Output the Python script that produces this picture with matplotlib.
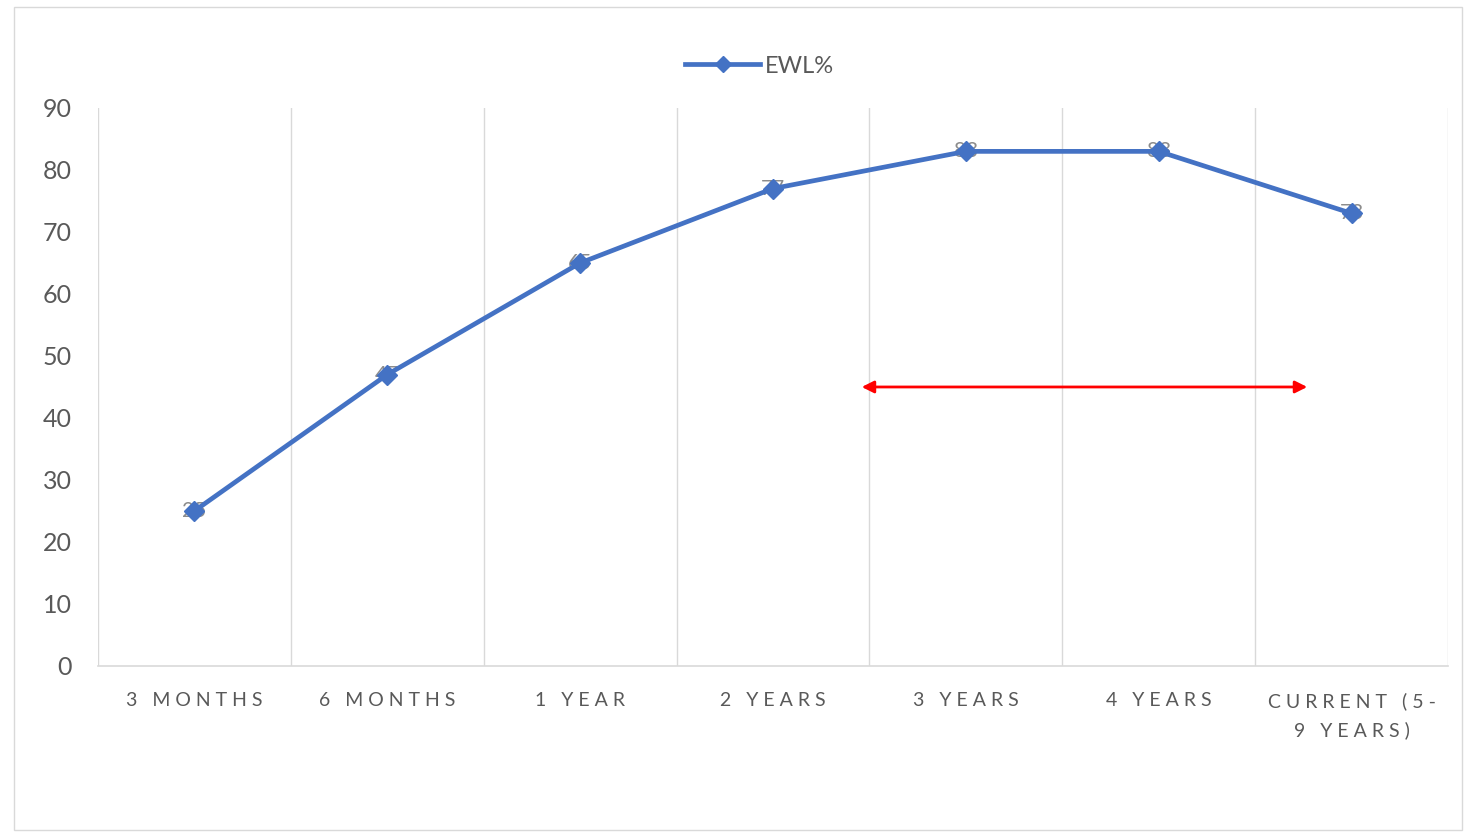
import matplotlib.pyplot as plt
from matplotlib.patches import Rectangle

plt.rcParams['font.family'] = ['Lato', 'DejaVu Sans']

categories = ["3 MONTHS", "6 MONTHS", "1 YEAR", "2 YEARS", "3 YEARS", "4 YEARS", "CURRENT (5-\n9 YEARS)"]
ewl = [25, 47, 65, 77, 83, 83, 73]

# red arrow span (in category units) and level
arrow_x = [3.46, 5.77]
arrow_y = 45


def spaced(s):
    gap = "\u2009\u2009"
    return "\n".join(gap.join(line) for line in s.split("\n"))


fig = plt.figure(figsize=(14.64, 8.35), dpi=100)
ax = fig.add_axes([0.0669, 0.2024, 0.9222, 0.6683])

x = list(range(len(categories)))
ax.plot(x, ewl, color="#4472C4", linewidth=3.4, marker="D", markersize=10,
        markeredgecolor="#4472C4", label="EWL%", zorder=3)
for xi, v in zip(x, ewl):
    ax.text(xi, v, str(v), ha="center", va="center", fontsize=15,
            color="#8c8c8c", zorder=2)

ax.annotate("", xy=(arrow_x[0], arrow_y), xytext=(arrow_x[1], arrow_y),
            arrowprops=dict(arrowstyle="<|-|>", color="#ff0000", lw=2,
                            mutation_scale=18, shrinkA=0, shrinkB=0))

ax.set_xlim(-0.5, len(categories) - 0.5)
ax.set_ylim(0, 90)
ax.set_yticks(range(0, 91, 10))
ax.set_xticks(x)
ax.set_xticklabels([spaced(c) for c in categories], fontsize=14, color="#595959",
                   linespacing=1.75)
ax.tick_params(axis="y", labelsize=18, labelcolor="#595959", length=0, pad=19)
ax.tick_params(axis="x", length=0, pad=19)

for b in [i - 0.5 for i in range(1, len(categories))]:
    ax.axvline(b, color="#d9d9d9", linewidth=1, zorder=0)
for side in ["top", "right", "left"]:
    ax.spines[side].set_visible(False)
ax.spines["bottom"].set_color("#d9d9d9")
ax.spines["bottom"].set_linewidth(1.2)
ax.axvline(-0.5, color="#d9d9d9", linewidth=1, zorder=0)
ax.axvline(len(categories) - 0.5, color="#d9d9d9", linewidth=1, zorder=0)

ax.legend(loc="center", bbox_to_anchor=(0.49, 1.075), frameon=False, fontsize=17,
          handlelength=3.2, handletextpad=0.2, markerscale=0.8,
          labelcolor="#595959")

fig.patches.append(Rectangle((14 / 1464, 5 / 835), 1448 / 1464, 823 / 835,
                             transform=fig.transFigure, fill=False,
                             edgecolor="#d9d9d9", linewidth=1))

fig.savefig("out.png", dpi=100)
